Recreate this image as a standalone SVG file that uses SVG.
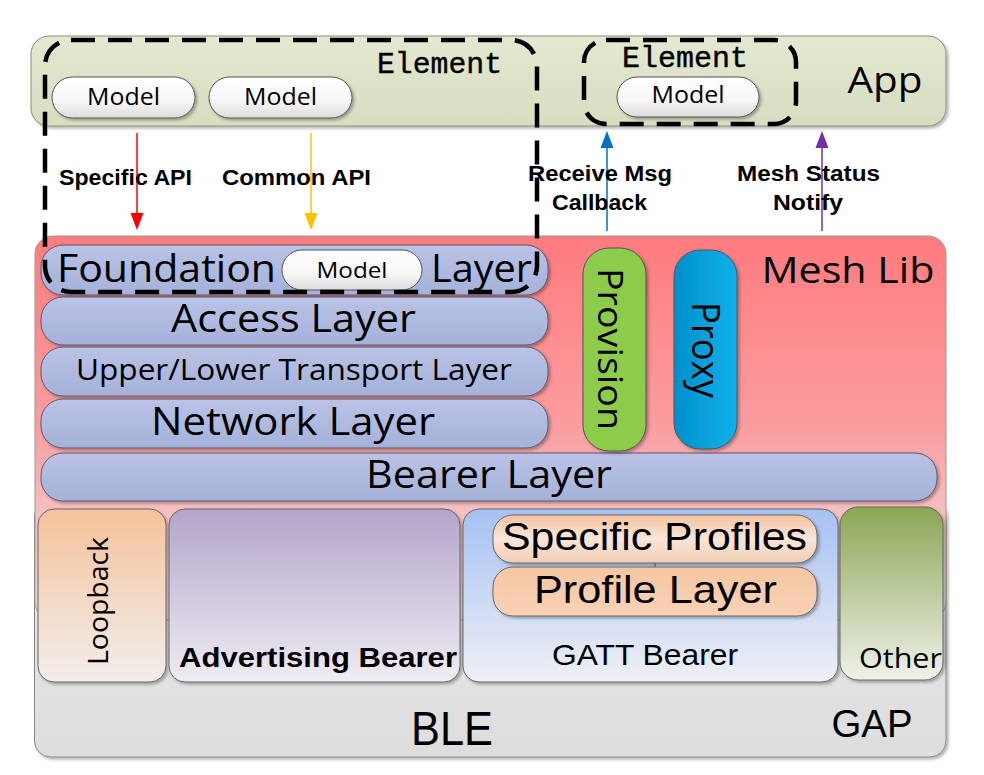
<svg xmlns="http://www.w3.org/2000/svg" width="984" height="775" viewBox="0 0 984 775">
<defs>
<style>
.os{font-family:"Open Sans","DejaVu Sans",sans-serif;fill:#000}
.cal{font-family:"Liberation Sans Narrow","Liberation Sans",Arial,sans-serif;fill:#000}
.bd{font-family:"Liberation Sans",Arial,sans-serif;font-weight:bold;fill:#000}
.mono{font-family:"Liberation Mono","Courier New",monospace;fill:#000;stroke:#000;stroke-width:0.4}
.layer{fill:url(#gLayer);stroke:#5a5a6a;stroke-width:1}
.pill{fill:url(#gPill);stroke:#555;stroke-width:1}
.dash{fill:none;stroke:#000;stroke-width:4.5;stroke-dasharray:24 13}
.box{stroke:#666;stroke-width:1}
</style>
<filter id="sh" x="-5%" y="-5%" width="115%" height="120%">
<feDropShadow dx="2" dy="2" stdDeviation="1.5" flood-color="#000" flood-opacity="0.3"/>
</filter>
<linearGradient id="gApp" x1="0" y1="0" x2="0" y2="1"><stop offset="0" stop-color="#E3E8D0"/><stop offset="1" stop-color="#D7DEC0"/></linearGradient>
<linearGradient id="gMesh" x1="0" y1="0" x2="0" y2="1"><stop offset="0" stop-color="#FF7B7E"/><stop offset="0.5" stop-color="#FA9EA0"/><stop offset="0.75" stop-color="#F5C4C4"/><stop offset="1" stop-color="#ECE0E0"/></linearGradient>
<linearGradient id="gBle" x1="0" y1="0" x2="0" y2="1"><stop offset="0" stop-color="#EBEBEB"/><stop offset="1" stop-color="#DDDDDD"/></linearGradient>
<linearGradient id="gLayer" x1="0" y1="0" x2="0" y2="1"><stop offset="0" stop-color="#BAC3E6"/><stop offset="1" stop-color="#A5B1D9"/></linearGradient>
<linearGradient id="gPill" x1="0" y1="0" x2="0" y2="1"><stop offset="0" stop-color="#FFFFFF"/><stop offset="0.6" stop-color="#F6F6F6"/><stop offset="1" stop-color="#DCDCDC"/></linearGradient>
<linearGradient id="gProxy" x1="0" y1="0" x2="1" y2="0"><stop offset="0" stop-color="#0090CC"/><stop offset="1" stop-color="#10B0EA"/></linearGradient>
<linearGradient id="gLoop" x1="0" y1="0" x2="0" y2="1"><stop offset="0" stop-color="#F5C29A"/><stop offset="1" stop-color="#F2EEEC"/></linearGradient>
<linearGradient id="gAdv" x1="0" y1="0" x2="0" y2="1"><stop offset="0" stop-color="#B3A5CB"/><stop offset="1" stop-color="#EFECF2"/></linearGradient>
<linearGradient id="gGatt" x1="0" y1="0" x2="0" y2="1"><stop offset="0" stop-color="#A5C1F3"/><stop offset="1" stop-color="#EFF0F4"/></linearGradient>
<linearGradient id="gOther" x1="0" y1="0" x2="0" y2="1"><stop offset="0" stop-color="#8CA655"/><stop offset="1" stop-color="#EFF1EA"/></linearGradient>
<linearGradient id="gPeach1" x1="0" y1="0" x2="0" y2="1"><stop offset="0" stop-color="#F4C29E"/><stop offset="0.5" stop-color="#F9E6DA"/><stop offset="1" stop-color="#F2CDB3"/></linearGradient>
<linearGradient id="gPeach2" x1="0" y1="0" x2="0" y2="1"><stop offset="0" stop-color="#F5C6A2"/><stop offset="1" stop-color="#F8D2B6"/></linearGradient>
</defs>
<rect width="984" height="775" fill="#FFFFFF"/>

<g id="ble">
<rect x="34.5" y="500" width="911.5" height="257" rx="16" fill="url(#gBle)" stroke="#888" stroke-width="1" filter="url(#sh)"/>
<text class="cal" x="452" y="745" font-size="48" text-anchor="middle" textLength="82" lengthAdjust="spacingAndGlyphs">BLE</text>
<text class="cal" x="872" y="737" font-size="39" text-anchor="middle" textLength="81" lengthAdjust="spacingAndGlyphs">GAP</text>
</g>

<g id="app">
<rect x="31" y="36" width="915" height="90" rx="18" fill="url(#gApp)" stroke="#8a8f7a" stroke-width="1" filter="url(#sh)"/>
<text class="os" x="885" y="93" font-size="36" text-anchor="middle" textLength="75" lengthAdjust="spacingAndGlyphs">App</text>
</g>

<g id="mesh-lib">
<rect x="35" y="236" width="911" height="384" rx="18" fill="url(#gMesh)" stroke="#999" stroke-width="1"/>
<text class="os" x="848" y="283" font-size="36" text-anchor="middle" textLength="173" lengthAdjust="spacingAndGlyphs">Mesh Lib</text>
</g>

<g id="model-1">
<rect class="pill" x="52" y="77" width="143" height="41" rx="20.5" filter="url(#sh)"/>
<text class="os" x="123.5" y="105" font-size="23" text-anchor="middle" textLength="73" lengthAdjust="spacingAndGlyphs">Model</text>
</g>
<g id="model-2">
<rect class="pill" x="209" y="77" width="143" height="41" rx="20.5" filter="url(#sh)"/>
<text class="os" x="280.5" y="105" font-size="23" text-anchor="middle" textLength="73" lengthAdjust="spacingAndGlyphs">Model</text>
</g>
<g id="model-3">
<rect class="pill" x="617" y="77" width="142" height="40" rx="20" filter="url(#sh)"/>
<text class="os" x="688" y="103" font-size="23" text-anchor="middle" textLength="73" lengthAdjust="spacingAndGlyphs">Model</text>
</g>

<g id="foundation-layer">
<rect class="layer" x="41" y="245" width="507" height="50" rx="22" filter="url(#sh)"/>
<text class="os" x="57" y="282" font-size="39" textLength="219" lengthAdjust="spacingAndGlyphs">Foundation</text>
<text class="os" x="431" y="282" font-size="39" textLength="101" lengthAdjust="spacingAndGlyphs">Layer</text>
</g>
<g id="model-4">
<rect class="pill" x="282" y="250" width="140" height="40" rx="20"/>
<text class="os" x="352" y="278" font-size="21" text-anchor="middle" textLength="71" lengthAdjust="spacingAndGlyphs">Model</text>
</g>
<g id="access-layer">
<rect class="layer" x="41" y="297" width="507" height="48" rx="22" filter="url(#sh)"/>
<text class="os" x="293.5" y="332" font-size="38" text-anchor="middle" textLength="245" lengthAdjust="spacingAndGlyphs">Access Layer</text>
</g>
<g id="transport-layer">
<rect class="layer" x="41" y="347" width="507" height="49" rx="22" filter="url(#sh)"/>
<text class="os" x="294" y="380" font-size="29" text-anchor="middle" textLength="436" lengthAdjust="spacingAndGlyphs">Upper/Lower Transport Layer</text>
</g>
<g id="network-layer">
<rect class="layer" x="41" y="399" width="507" height="49" rx="22" filter="url(#sh)"/>
<text class="os" x="293" y="435" font-size="38" text-anchor="middle" textLength="284" lengthAdjust="spacingAndGlyphs">Network Layer</text>
</g>
<g id="bearer-layer">
<rect class="layer" x="41" y="453" width="896" height="48" rx="22" filter="url(#sh)"/>
<text class="os" x="489" y="488" font-size="38" text-anchor="middle" textLength="246" lengthAdjust="spacingAndGlyphs">Bearer Layer</text>
</g>

<g id="provision">
<rect x="583" y="248" width="63" height="203" rx="26" fill="#8DCB4C" stroke="#555" stroke-width="1" filter="url(#sh)"/>
<text class="os" transform="translate(598,349) rotate(90)" font-size="34" text-anchor="middle" textLength="162" lengthAdjust="spacingAndGlyphs">Provision</text>
</g>
<g id="proxy">
<rect x="674" y="250" width="63" height="199" rx="26" fill="url(#gProxy)" stroke="#555" stroke-width="1" filter="url(#sh)"/>
<text class="os" transform="translate(692,350) rotate(90)" font-size="38" text-anchor="middle" textLength="96" lengthAdjust="spacingAndGlyphs">Proxy</text>
</g>

<g id="loopback">
<rect class="box" x="38" y="509" width="128" height="173" rx="16" fill="url(#gLoop)" filter="url(#sh)"/>
<text class="os" transform="translate(108,601) rotate(-90)" font-size="28" text-anchor="middle" textLength="128" lengthAdjust="spacingAndGlyphs">Loopback</text>
</g>
<g id="advertising-bearer">
<rect class="box" x="169" y="509" width="291" height="173" rx="16" fill="url(#gAdv)" filter="url(#sh)"/>
<text class="bd" x="318" y="667" font-size="28" text-anchor="middle" textLength="278" lengthAdjust="spacingAndGlyphs">Advertising Bearer</text>
</g>
<g id="gatt-bearer">
<rect class="box" x="463" y="509" width="375" height="173" rx="16" fill="url(#gGatt)" filter="url(#sh)"/>
<text class="cal" x="645" y="665" font-size="30" text-anchor="middle" textLength="186" lengthAdjust="spacingAndGlyphs">GATT Bearer</text>
</g>
<g id="specific-profiles">
<rect class="box" x="493" y="515" width="324" height="48" rx="20" fill="url(#gPeach1)" filter="url(#sh)"/>
<text class="cal" x="654.5" y="550" font-size="39" text-anchor="middle" textLength="305" lengthAdjust="spacingAndGlyphs">Specific Profiles</text>
</g>
<g id="profile-layer">
<rect class="box" x="493" y="567" width="324" height="49" rx="20" fill="url(#gPeach2)" filter="url(#sh)"/>
<text class="cal" x="655.5" y="603" font-size="39" text-anchor="middle" textLength="243" lengthAdjust="spacingAndGlyphs">Profile Layer</text>
</g>
<g id="other">
<rect class="box" x="840" y="507" width="103" height="173" rx="18" fill="url(#gOther)" filter="url(#sh)"/>
<text class="os" x="859" y="668" font-size="28" textLength="83" lengthAdjust="spacingAndGlyphs">Other</text>
</g>

<g id="element-1">
<rect class="dash" x="45" y="40" width="492" height="252" rx="26"/>
<text class="mono" x="439.5" y="73" font-size="29" text-anchor="middle" textLength="125" lengthAdjust="spacingAndGlyphs">Element</text>
</g>
<g id="element-2">
<rect class="dash" x="584" y="40" width="212" height="84" rx="22"/>
<text class="mono" x="685" y="67" font-size="29" text-anchor="middle" textLength="126" lengthAdjust="spacingAndGlyphs">Element</text>
</g>

<g id="connectors">
<line x1="137" y1="133" x2="137" y2="214" stroke="#FF0000" stroke-width="1.5"/>
<path d="M130.5,213 L143.5,213 L137,230 Z" fill="#FF0000"/>
<line x1="311" y1="133" x2="311" y2="214" stroke="#FFC000" stroke-width="1.5"/>
<path d="M304.5,213 L317.5,213 L311,230 Z" fill="#FFC000"/>
<line x1="607" y1="231" x2="607" y2="147" stroke="#0070C0" stroke-width="1.5"/>
<path d="M600.5,148 L613.5,148 L607,131 Z" fill="#0070C0"/>
<line x1="822" y1="231" x2="822" y2="147" stroke="#7030A0" stroke-width="1.5"/>
<path d="M815.5,148 L828.5,148 L822,131 Z" fill="#7030A0"/>
<line x1="655" y1="563" x2="655" y2="567" stroke="#555" stroke-width="1"/>
</g>

<g id="labels">
<text class="bd" x="125.5" y="185" font-size="22" text-anchor="middle" textLength="133" lengthAdjust="spacingAndGlyphs">Specific API</text>
<text class="bd" x="296.5" y="185" font-size="22" text-anchor="middle" textLength="149" lengthAdjust="spacingAndGlyphs">Common API</text>
<text class="bd" x="600" y="181" font-size="22" text-anchor="middle" textLength="144" lengthAdjust="spacingAndGlyphs">Receive Msg</text>
<text class="bd" x="599.5" y="210" font-size="22" text-anchor="middle" textLength="95" lengthAdjust="spacingAndGlyphs">Callback</text>
<text class="bd" x="808.5" y="181" font-size="22" text-anchor="middle" textLength="143" lengthAdjust="spacingAndGlyphs">Mesh Status</text>
<text class="bd" x="808" y="210" font-size="22" text-anchor="middle" textLength="70" lengthAdjust="spacingAndGlyphs">Notify</text>
</g>
</svg>
